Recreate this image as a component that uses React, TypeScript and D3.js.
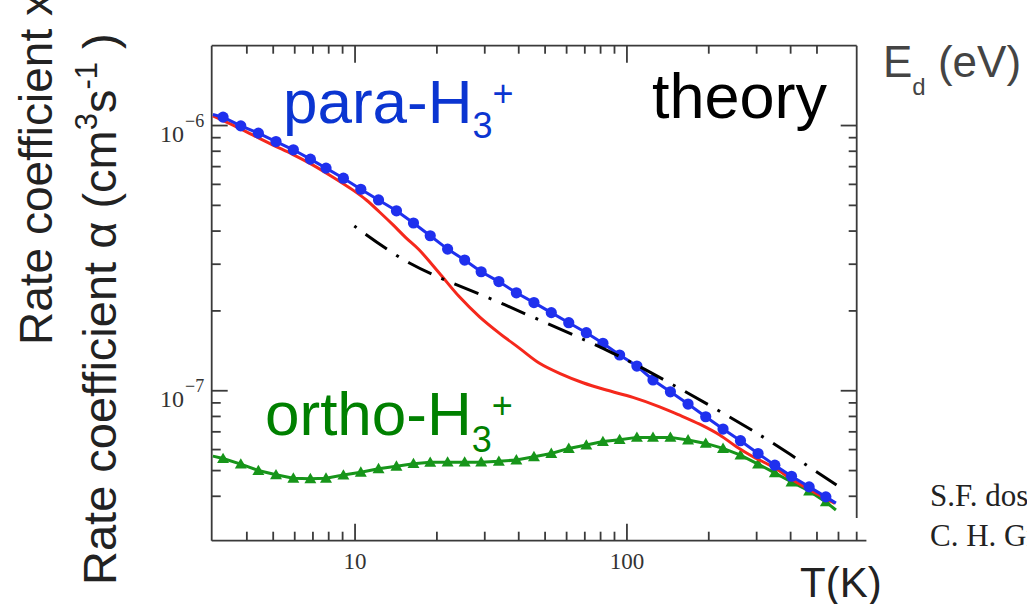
import React from "react";
import * as d3 from "d3";

// temperatures (K) of the plotted markers, shared by both curves
const T_GRID = [3.27, 3.8, 4.41, 5.12, 5.93, 6.85, 7.82, 9.06, 10.5, 12.2, 14.2, 16.4, 18.9, 21.9, 25.3, 29.1, 33.8, 39.2, 45.5, 52.7, 61.1, 70.9, 81.6, 94, 108.8, 124.7, 144.5, 167.8, 194.9, 225.7, 261.6, 303.6, 349.9, 403, 467.9, 539];
const PARA = [1.076e-6, 0.997e-6, 0.936e-6, 0.87e-6, 0.81e-6, 0.747e-6, 0.691e-6, 0.633e-6, 0.575e-6, 0.524e-6, 0.477e-6, 0.429e-6, 0.384e-6, 0.342e-6, 0.311e-6, 0.281e-6, 0.258e-6, 0.234e-6, 0.215e-6, 0.197e-6, 0.1805e-6, 0.1655e-6, 0.151e-6, 0.1364e-6, 0.1239e-6, 0.1098e-6, 9.91e-8, 8.91e-8, 7.98e-8, 7.17e-8, 6.48e-8, 5.8e-8, 5.24e-8, 4.76e-8, 4.34e-8, 3.98e-8];
const ORTHO = [5.55e-8, 5.29e-8, 5.0e-8, 4.82e-8, 4.68e-8, 4.66e-8, 4.68e-8, 4.81e-8, 4.93e-8, 5.08e-8, 5.19e-8, 5.31e-8, 5.37e-8, 5.38e-8, 5.38e-8, 5.38e-8, 5.42e-8, 5.48e-8, 5.64e-8, 5.8e-8, 6.06e-8, 6.24e-8, 6.43e-8, 6.54e-8, 6.67e-8, 6.67e-8, 6.67e-8, 6.52e-8, 6.33e-8, 6.06e-8, 5.72e-8, 5.29e-8, 4.9e-8, 4.53e-8, 4.19e-8, 3.81e-8];

// the lines run a bit past the first and last markers
const EDGE_T = [3, 587];
const PARA_EDGE = [1.1e-6, 3.77e-8];
const ORTHO_EDGE = [5.67e-8, 3.55e-8];

// red curve (no markers)
const RED_T = [3, 3.54, 4.2, 4.97, 5.89, 6.98, 8.27, 9.8, 11, 12.3, 13.8, 15.4, 17.2, 20.4, 24.2, 28.7, 34, 40.3, 47.7, 56.5, 68.9, 84, 105.2, 131.9, 156.3, 185.2, 219.4, 252.8, 291, 344.7, 408.6, 484.1, 581.8];
const RED_A = [1.088e-6, 1.006e-6, 0.922e-6, 0.846e-6, 0.779e-6, 0.711e-6, 0.64e-6, 0.572e-6, 0.524e-6, 0.472e-6, 0.422e-6, 0.377e-6, 0.34e-6, 0.278e-6, 0.226e-6, 0.19e-6, 0.1646e-6, 0.1445e-6, 0.1269e-6, 0.1163e-6, 0.1072e-6, 1.006e-7, 9.44e-8, 8.7e-8, 8.09e-8, 7.48e-8, 6.81e-8, 6.15e-8, 5.64e-8, 5.16e-8, 4.6e-8, 4.16e-8, 3.76e-8];

// black dash-dot curve
const DD_T = [9.94, 15.85, 35.5, 88.6, 143.7, 308, 590];
const DD_A = [4.18e-7, 3.03e-7, 2.11e-7, 1.387e-7, 1.069e-7, 6.81e-8, 4.41e-8];

// ticks
const X_MAJOR = [10, 100];
const X_MINOR = [4, 5, 6, 7, 8, 9, 20, 30, 40, 50, 60, 70, 80, 90, 200, 300, 400, 500, 600, 700];
const X_MINOR_TOP = [4, 5, 6, 7, 8, 9, 20, 30, 40, 50, 60, 70, 80, 90, 200, 300, 400, 500];
const Y_MAJOR = [1e-7, 1e-6];
const Y_MINOR = [4e-8, 5e-8, 6e-8, 7e-8, 8e-8, 9e-8, 2e-7, 3e-7, 4e-7, 5e-7, 6e-7, 7e-7, 8e-7, 9e-7];
const X_LABELS = ["10", "100"];
const Y_EXP = ["-7", "-6"];

const W = 1027;
const H = 604;
const left = 211.7, right = 856.7, top = 45.7, bottom = 540.7;

const SANS = "'Liberation Sans', Arial, Helvetica, sans-serif";
const SERIF = "'Liberation Serif', 'Times New Roman', serif";
const AXIS = "#3a3a3a";

export default function App() {
  const x = d3.scaleLog().domain([2.97, 700]).range([left, right]);
  const y = d3.scaleLog().domain([2.72e-8, 2e-6]).range([bottom, top]);

  const line = d3.line<[number, number]>().x((d) => x(d[0])).y((d) => y(d[1]));
  const smooth = d3.line<[number, number]>().x((d) => x(d[0])).y((d) => y(d[1])).curve(d3.curveCatmullRom);

  const paraPts: [number, number][] = [[EDGE_T[0], PARA_EDGE[0]], ...T_GRID.map((t, i) => [t, PARA[i]] as [number, number]), [EDGE_T[1], PARA_EDGE[1]]];
  const orthoPts: [number, number][] = [[EDGE_T[0], ORTHO_EDGE[0]], ...T_GRID.map((t, i) => [t, ORTHO[i]] as [number, number]), [EDGE_T[1], ORTHO_EDGE[1]]];
  const redPts = RED_T.map((t, i) => [t, RED_A[i]] as [number, number]);
  const ddPts = DD_T.map((t, i) => [t, DD_A[i]] as [number, number]);

  const tri = d3.symbol().type(d3.symbolTriangle).size(62)();
  const rightEnd = 518; // right frame is cut short in the source

  return (
    <svg width={W} height={H} style={{ position: "absolute", left: 0, top: 0, background: "#fff" }}>
      {/* frame */}
      <g stroke={AXIS} strokeWidth={1.8} fill="none">
        <line x1={left} x2={left} y1={top} y2={bottom} />
        <line x1={left} x2={right} y1={top} y2={top} />
        <line x1={left} x2={x(760)} y1={bottom} y2={bottom} />
        <line x1={right} x2={right} y1={top} y2={rightEnd} />
        {X_MAJOR.map((t) => (
          <g key={"xM" + t}>
            <line x1={x(t)} x2={x(t)} y1={bottom} y2={bottom - 17} />
            <line x1={x(t)} x2={x(t)} y1={top} y2={top + 17} />
          </g>
        ))}
        {X_MINOR.map((t) => (
          <line key={"xm" + t} x1={x(t)} x2={x(t)} y1={bottom} y2={bottom - 9} />
        ))}
        {X_MINOR_TOP.map((t) => (
          <line key={"xt" + t} x1={x(t)} x2={x(t)} y1={top} y2={top + 8} />
        ))}
        {Y_MAJOR.map((v) => (
          <g key={"yM" + v}>
            <line x1={left} x2={left + 16} y1={y(v)} y2={y(v)} />
            <line x1={right} x2={right - 16} y1={y(v)} y2={y(v)} />
          </g>
        ))}
        {Y_MINOR.map((v) => (
          <g key={"ym" + v}>
            <line x1={left} x2={left + 9} y1={y(v)} y2={y(v)} />
            <line x1={right} x2={right - 8} y1={y(v)} y2={y(v)} />
          </g>
        ))}
      </g>

      {/* tick labels */}
      <g fontFamily={SERIF} fill="#333">
        {X_MAJOR.map((t, i) => (
          <text key={"xl" + t} x={x(t)} y={569} fontSize={23} textAnchor="middle">
            {X_LABELS[i]}
          </text>
        ))}
        {Y_MAJOR.map((v, i) => (
          <g key={"yl" + v}>
            <text x={184} y={y(v) + 16} fontSize={24} textAnchor="end">10</text>
            <text x={185} y={y(v) + 1} fontSize={18}>{Y_EXP[i].replace("-", "\u2212")}</text>
          </g>
        ))}
      </g>

      {/* curves */}
      <path d={line(orthoPts) || ""} fill="none" stroke="#17951a" strokeWidth={3} />
      {T_GRID.map((t, i) => (
        <path key={"tr" + i} d={tri} transform={`translate(${x(t)},${y(ORTHO[i]) + 1})`} fill="#17951a" />
      ))}
      <path d={smooth(redPts) || ""} fill="none" stroke="#f5281c" strokeWidth={3} />
      <path d={line(paraPts) || ""} fill="none" stroke="#1f30ee" strokeWidth={3} />
      {T_GRID.map((t, i) => (
        <circle key={"c" + i} cx={x(t)} cy={y(PARA[i])} r={5.6} fill="#1f30ee" />
      ))}
      <path d={smooth(ddPts) || ""} fill="none" stroke="#000" strokeWidth={3} strokeDasharray="3,11,26,11" />

      {/* annotations */}
      <g fontFamily={SANS}>
        <text x={283} y={122.7} fontSize={62} fill="#0b35d1">
          para-H<tspan fontSize={36} dy={15.3}>3</tspan>
          <tspan fontSize={36} dy={-32}>+</tspan>
        </text>
        <text x={265} y={435} fontSize={62} fill="#008000">
          ortho-H<tspan fontSize={36} dy={16.7}>3</tspan>
          <tspan fontSize={36} dy={-33.7}>+</tspan>
        </text>
        <text x={652} y={118.3} fontSize={63} fill="#000">theory</text>
        <text x={883} y={76.7} fontSize={44} fill="#444">
          E<tspan fontSize={24} dy={18}>d</tspan>
          <tspan dy={-18}> (eV)</tspan>
        </text>
        <text x={800} y={596.7} fontSize={42} fill="#222">T(K)</text>
        <text transform="translate(52,345) rotate(-90)" fontSize={46} fill="#222">
          Rate coefficient x 10
        </text>
        <text transform="translate(116,585) rotate(-90)" fontSize={47} fill="#222">
          Rate coefficient α (cm<tspan fontSize={31} dy={-19}>3</tspan>
          <tspan dy={19}>s</tspan>
          <tspan fontSize={31} dy={-19}>-1</tspan>
          <tspan dy={19}> )</tspan>
        </text>
      </g>
      <g fontFamily={SERIF} fill="#222" fontSize={31}>
        <text x={930} y={506}>S.F. dos Santos</text>
        <text x={930} y={546}>C. H. Greene</text>
      </g>
    </svg>
  );
}
